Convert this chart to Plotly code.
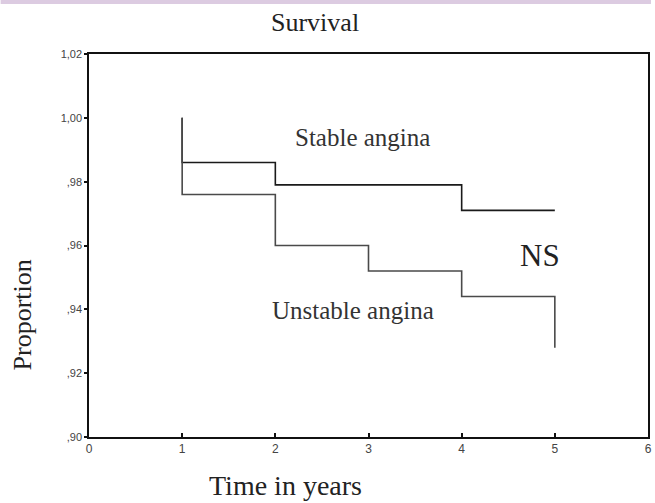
import plotly.graph_objects as go

# Data (Kaplan-Meier step curves)
stable_x = [1, 1, 2, 4, 5]
stable_y = [1.000, 0.986, 0.979, 0.971, 0.971]
unstable_x = [1, 1, 2, 3, 4, 5]
unstable_y = [1.000, 0.976, 0.960, 0.952, 0.944, 0.928]

y_tickvals = [0.90, 0.92, 0.94, 0.96, 0.98, 1.00, 1.02]
y_ticktext = [",90", ",92", ",94", ",96", ",98", "1,00", "1,02"]
x_tickvals = [0, 1, 2, 3, 4, 5, 6]
x_ticktext = ["0", "1", "2", "3", "4", "5", "6"]

W, H = 655, 503
L, R, T, B = 89, 3, 54, 66
pw, ph = W - L - R, H - T - B

fig = go.Figure()
fig.add_trace(go.Scatter(x=stable_x, y=stable_y, mode="lines", line_shape="hv",
                         line=dict(color="#1a1a1a", width=1.6), name="Stable angina",
                         showlegend=False, hoverinfo="skip"))
fig.add_trace(go.Scatter(x=unstable_x, y=unstable_y, mode="lines", line_shape="hv",
                         line=dict(color="#4a4a4a", width=1.6), name="Unstable angina",
                         showlegend=False, hoverinfo="skip"))

serif = "Liberation Serif, Times New Roman, serif"
sans = "Arial, Liberation Sans, sans-serif"

fig.update_layout(
    width=W, height=H,
    margin=dict(l=L, r=R, t=T, b=B, pad=0),
    paper_bgcolor="white", plot_bgcolor="white",
    showlegend=False,
    xaxis=dict(range=[0, 6], tickvals=x_tickvals, ticktext=x_ticktext,
               showgrid=False, zeroline=False, showline=True, linecolor="#111111",
               linewidth=1.5, mirror=True, ticks="inside", ticklen=4, tickwidth=2,
               tickcolor="#111111",
               tickfont=dict(family=sans, size=12, color="#444444")),
    yaxis=dict(range=[0.90, 1.02], tickvals=y_tickvals, ticktext=y_ticktext,
               showgrid=False, zeroline=False, showline=True, linecolor="#111111",
               linewidth=1.5, mirror=True, ticks="outside", ticklen=3, tickwidth=2,
               tickcolor="#111111",
               tickfont=dict(family=sans, size=11, color="#444444")),
)

def px_to_paper(xp, yp):
    return (xp - L) / pw, (H - B - yp) / ph

annots = [
    ("Survival", 317, 22, 26, "#222222"),
    ("Time in years", 287, 485, 28, "#222222"),
    ("Stable angina", 364, 137, 25, "#333333"),
    ("Unstable angina", 355, 310, 25, "#333333"),
    ("NS", 543, 255, 31, "#222222"),
]
for text, xp, yp, size, col in annots:
    ax, ay = px_to_paper(xp, yp)
    fig.add_annotation(text=text, x=ax, y=ay, xref="paper", yref="paper",
                       showarrow=False, xanchor="center", yanchor="middle",
                       font=dict(family=serif, size=size, color=col))

ax, ay = px_to_paper(22, 315)
fig.add_annotation(text="Proportion", x=ax, y=ay, xref="paper", yref="paper",
                   showarrow=False, textangle=-90, xanchor="center", yanchor="middle",
                   font=dict(family=serif, size=26, color="#222222"))

# Purple band at the top of the image
x0, y0 = px_to_paper(0, 4)
x1, y1 = px_to_paper(W, 0)
fig.add_shape(type="rect", xref="paper", yref="paper", x0=x0, x1=x1, y0=y0, y1=y1,
              fillcolor="#dccbe1", line=dict(width=0), layer="above")

fig.write_html("out.html", config={"displayModeBar": False},
               post_script="document.body.style.margin='0';document.body.style.padding='0';")
